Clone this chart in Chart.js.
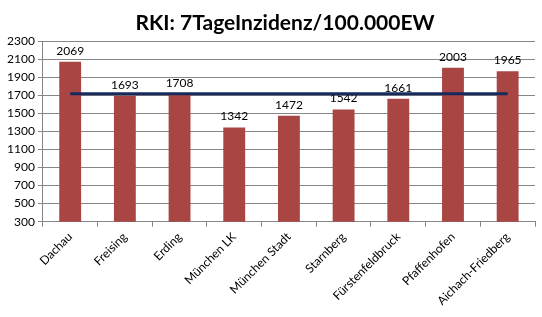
<!DOCTYPE html>
<html>
<head>
<meta charset="utf-8">
<script src="https://cdn.jsdelivr.net/npm/chart.js@4/dist/chart.umd.min.js"></script>
<style>
html,body{margin:0;padding:0;background:#fff;}
#wrap{width:542px;height:317px;}
</style>
</head>
<body>
<div id="wrap"><canvas id="c" width="542" height="317"></canvas></div>
<script>
const categories = ["Dachau","Freising","Erding","München LK","München Stadt","Starnberg","Fürstenfeldbruck","Pfaffenhofen","Aichach-Friedberg"];
const incidence = [2069,1693,1708,1342,1472,1542,1661,2003,1965];
const averageLine = [1717,1717,1717,1717,1717,1717,1717,1717,1717];
const yMin = 300, yMax = 2300, yStep = 200;
const titleText = "RKI: 7TageInzidenz/100.000EW";

const FONT = "Lato, 'Open Sans', sans-serif";

const labelPlugin = {
  id: 'barLabels',
  afterDatasetDraw(chart, args) {
    if (args.index !== 0) return;
    const ctx = chart.ctx;
    const meta = args.meta;
    ctx.save();
    ctx.font = "12px " + FONT;
    ctx.fillStyle = "#000";
    ctx.textAlign = "center";
    ctx.textBaseline = "bottom";
    meta.data.forEach((el, i) => {
      ctx.fillText(String(incidence[i]), el.x, el.y - 5);
    });
    ctx.restore();
  }
};

const titlePlugin = {
  id: 'offsetTitle',
  afterDraw(chart) {
    const ctx = chart.ctx;
    ctx.save();
    ctx.font = "bold 21px " + FONT;
    ctx.fillStyle = "#000";
    ctx.textAlign = "center";
    ctx.textBaseline = "middle";
    ctx.fillText(titleText, 285, 23);
    ctx.restore();
  }
};

new Chart(document.getElementById('c'), {
  type: 'bar',
  data: {
    labels: categories,
    datasets: [
      {
        type: 'bar',
        data: incidence,
        backgroundColor: '#A94643',
        barPercentage: 0.8,
        categoryPercentage: 0.5,
        order: 2
      },
      {
        type: 'line',
        data: averageLine,
        borderColor: '#162A5C',
        borderWidth: 3,
        pointRadius: 0,
        fill: false,
        order: 1
      }
    ]
  },
  options: {
    responsive: false,
    animation: false,
    devicePixelRatio: 1,
    layout: { padding: { left: 4, right: 7, top: 41, bottom: 6 } },
    plugins: {
      legend: { display: false },
      tooltip: { enabled: false },
      title: { display: false }
    },
    scales: {
      x: {
        offset: true,
        grid: { display: true, drawOnChartArea: false, offset: true, color: '#868686', tickLength: 5 },
        border: { color: '#868686', width: 1 },
        ticks: { color: '#000', font: { family: FONT, size: 12 }, minRotation: 45, maxRotation: 45, padding: 3, autoSkip: false }
      },
      y: {
        min: yMin, max: yMax,
        grid: { color: '#868686', tickLength: 5 },
        border: { color: '#868686', width: 1 },
        ticks: { stepSize: yStep, color: '#000', font: { family: FONT, size: 12 }, padding: 3, autoSkip: false,
                 callback: (v) => String(v) }
      }
    }
  },
  plugins: [labelPlugin, titlePlugin]
});
</script>
</body>
</html>
